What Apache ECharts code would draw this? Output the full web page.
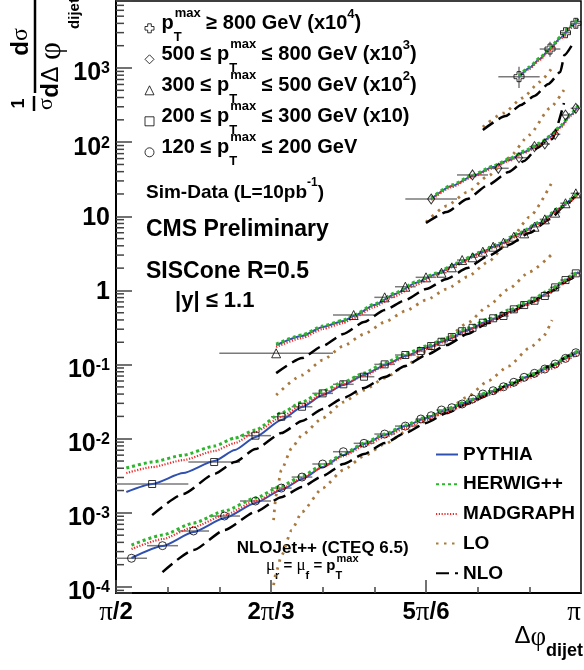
<!DOCTYPE html>
<html>
<head>
<meta charset="utf-8">
<script src="https://cdn.jsdelivr.net/npm/echarts@6/dist/echarts.min.js"></script>
<style>
  html, body { margin: 0; padding: 0; background: #fff; }
  #chart { width: 584px; height: 670px; }
</style>
</head>
<body>
<div id="chart"></div>
<script>
// ---------------------------------------------------------------------------
// Dijet azimuthal decorrelation, 1/sigma dsigma/dDeltaphi, in five pT^max bins.
// Angles are in degrees (90 = pi/2 ... 180 = pi); values are as plotted,
// i.e. already multiplied by the factor quoted in each legend entry.
// ---------------------------------------------------------------------------

const binLabels = [
  'pT max >= 800 GeV (x10^4)',
  '500 <= pT max <= 800 GeV (x10^3)',
  '300 <= pT max <= 500 GeV (x10^2)',
  '200 <= pT max <= 300 GeV (x10)',
  '120 <= pT max <= 200 GeV'
];
const modelNames = ['PYTHIA', 'HERWIG++', 'MADGRAPH', 'LO', 'NLO'];

// ---- pT^max >= 800 GeV (x10^4) -------------------------------------------
const phiX   = [168, 174, 177, 179];
const edgesX = [164, 172, 176, 178, 180];
const valX   = [764, 1803, 2993, 4009];
const errLoX = [537, 1420, 2642, 3460];
const errHiX = [1041, 2265, 3428, 4720];
const mcPhiX    = [168, 170, 172, 174, 176, 178, 179.5];
const pythiaX   = [756, 1000, 1323, 1804, 2539, 3573, 4580];
const herwigX   = [780, 1032, 1365, 1861, 2619, 3686, 4725];
const madgraphX = [733, 969, 1282, 1749, 2461, 3464, 4440];
const loPhiX  = [161, 165, 168.7, 172, 174.5];
const loX     = [160, 247, 394, 648, 1032];
const nloPhiX = [161, 165.4, 168.4, 171, 173.7, 176, 176.8, 178.6];
const nloX    = [146, 225, 317, 419, 609, 883, 1497, 2242];

// ---- 500 <= pT^max <= 800 GeV (x10^3) ------------------------------------
const phiD   = [151, 159, 164, 168, 171, 173, 175, 177, 179];
const edgesD = [146, 156, 162, 166, 170, 172, 174, 176, 178, 180];
const valD   = [17.1, 36.1, 44.4, 61.7, 86.9, 94.4, 127.6, 232, 286];
const mcPhiD    = [151, 155, 159, 163, 166, 169, 172, 174, 176, 178, 179.5];
const pythiaD   = [17.1, 25.6, 34.9, 46.1, 57.3, 73.5, 94.1, 117, 160, 232, 307];
const herwigD   = [17.6, 26.4, 36.0, 47.6, 59.1, 75.8, 97.1, 121, 165, 239, 317];
const madgraphD = [16.6, 24.8, 33.8, 44.7, 55.5, 71.2, 91.2, 113, 155, 225, 298];
const loPhiD  = [150, 154, 158, 162, 166, 170, 174, 176.7];
const loD     = [8.37, 13.8, 21.2, 34.9, 61.1, 125, 289, 505];
const nloPhiD = [150, 154, 158, 162, 166, 169, 171.6, 173.5, 174.4, 176.7];
const nloD    = [8.10, 11.4, 17.1, 26.4, 39.6, 55.7, 83.4, 107, 110, 337];

// ---- 300 <= pT^max <= 500 GeV (x10^2) ------------------------------------
const phiT   = [121, 136, 142, 146, 150, 153, 155, 157, 159, 161, 163, 165, 167, 169, 171, 173, 175, 177, 179];
const edgesT = [110, 132, 140, 144, 148, 152, 154, 156, 158, 160, 162, 164, 166, 168, 170, 172, 174, 176, 178, 180];
const valT   = [0.142, 0.466, 0.807, 1.122, 1.503, 1.734, 2.05, 2.57, 2.80, 3.33, 3.89, 4.41, 5.31, 5.89, 7.23, 9.10, 11.2, 15.0, 20.4];
const mcPhiT    = [121, 126, 130, 134, 136, 140, 144, 148, 152, 156, 160, 164, 168, 172, 176, 178, 179.5];
const pythiaT   = [0.183, 0.243, 0.321, 0.386, 0.451, 0.635, 0.893, 1.264, 1.665, 2.27, 3.10, 4.11, 5.76, 8.10, 12.9, 16.6, 20.6];
const herwigT   = [0.189, 0.251, 0.331, 0.398, 0.465, 0.655, 0.921, 1.304, 1.718, 2.34, 3.20, 4.24, 5.94, 8.36, 13.3, 17.1, 21.2];
const madgraphT = [0.172, 0.228, 0.302, 0.363, 0.424, 0.597, 0.839, 1.188, 1.614, 2.20, 3.005, 3.98, 5.58, 7.85, 12.5, 16.1, 20.0];
const loPhiT  = [121, 126, 130, 134, 138, 142, 146, 150, 154, 158, 162, 166, 170, 174.4];
const loT     = [0.0388, 0.0721, 0.115, 0.178, 0.258, 0.3745, 0.527, 0.741, 1.045, 1.52, 2.42, 4.49, 9.75, 29.0];
const nloPhiT = [121, 126, 130, 134, 138, 142, 146, 150, 154, 158, 162, 166, 170, 174, 177, 179.5];
const nloT    = [0.0767, 0.1226, 0.178, 0.258, 0.3745, 0.543, 0.741, 1.045, 1.43, 2.00, 2.91, 4.11, 5.94, 9.17, 14.2, 21.2];

// ---- 200 <= pT^max <= 300 GeV (x10) --------------------------------------
const phiS   = [97, 109, 117, 122, 126, 130, 134, 138, 142, 146, 149, 151, 153, 155, 157, 159, 161, 163, 165, 167, 169, 171, 173, 175, 177, 179];
const edgesS = [90, 104, 114, 120, 124, 128, 132, 136, 140, 144, 148, 150, 152, 154, 156, 158, 160, 162, 164, 166, 168, 170, 172, 174, 176, 178, 180];
const valS   = [0.00245, 0.00485, 0.0110, 0.0198, 0.0270, 0.0409, 0.0542, 0.0686, 0.1007, 0.1346, 0.1524, 0.178, 0.203, 0.2355, 0.282, 0.313, 0.367, 0.421, 0.452, 0.556, 0.635, 0.726, 0.841, 1.10, 1.38, 1.70];
const mcPhiS    = [92, 97, 103, 109, 113, 117, 122, 126, 130, 134, 138, 142, 146, 150, 154, 158, 162, 166, 170, 174, 176, 178, 179.5];
const pythiaS   = [0.00191, 0.00245, 0.00344, 0.00499, 0.00703, 0.01054, 0.0179, 0.0267, 0.0388, 0.0529, 0.0721, 0.0983, 0.1305, 0.167, 0.214, 0.292, 0.386, 0.511, 0.675, 0.950, 1.22, 1.52, 1.77];
const herwigS   = [0.00402, 0.00484, 0.00601, 0.00795, 0.01022, 0.0131, 0.0222, 0.0312, 0.0439, 0.0581, 0.0767, 0.1049, 0.139, 0.178, 0.228, 0.311, 0.411, 0.543, 0.718, 1.013, 1.26, 1.56, 1.83];
const madgraphS = [0.00344, 0.00414, 0.00515, 0.00681, 0.00873, 0.0123, 0.0196, 0.0284, 0.0400, 0.0546, 0.0699, 0.0953, 0.1265, 0.162, 0.2075, 0.283, 0.374, 0.495, 0.654, 0.921, 1.18, 1.47, 1.72];
const loPhiS  = [120.5, 121, 122, 124, 126, 130, 134, 138, 142, 146, 150, 154, 158, 162, 166, 170, 174.4];
const loS     = [0.000799, 0.00174, 0.00378, 0.00747, 0.0112, 0.0190, 0.0312, 0.0453, 0.0657, 0.0954, 0.148, 0.228, 0.363, 0.615, 1.045, 1.77, 3.10];
const nloPhiS = [97, 103, 109, 113, 117, 122, 126, 130, 134, 138, 142, 146, 150, 154, 158, 162, 166, 170, 174, 178, 179.5];
const nloS    = [0.000933, 0.00179, 0.00334, 0.00484, 0.00725, 0.0119, 0.0173, 0.0251, 0.0354, 0.0482, 0.0678, 0.0954, 0.1345, 0.183, 0.258, 0.363, 0.495, 0.675, 0.950, 1.43, 1.72];

// ---- 120 <= pT^max <= 200 GeV ---------------------------------------------
const phiC   = [93, 99, 105, 111, 117, 122, 126, 130, 134, 138, 142, 146, 149, 151, 153, 155, 157, 159, 161, 163, 165, 167, 169, 171, 173, 175, 177, 179];
const edgesC = [90, 96, 102, 108, 114, 120, 124, 128, 132, 136, 140, 144, 148, 150, 152, 154, 156, 158, 160, 162, 164, 166, 168, 170, 172, 174, 176, 178, 180];
const valC   = [0.000244, 0.000361, 0.000569, 0.000906, 0.001445, 0.00216, 0.00304, 0.00456, 0.00668, 0.00867, 0.01156, 0.0148, 0.01845, 0.0204, 0.0244, 0.0262, 0.0294, 0.0343, 0.0401, 0.0444, 0.0502, 0.0577, 0.0673, 0.0762, 0.0871, 0.1018, 0.1213, 0.1445];
const mcPhiC    = [93, 99, 105, 111, 117, 122, 126, 130, 134, 138, 142, 146, 150, 154, 158, 162, 166, 170, 174, 178, 179.5];
const pythiaC   = [0.000246, 0.000357, 0.000551, 0.000850, 0.00136, 0.00203, 0.00286, 0.00414, 0.00601, 0.00846, 0.0112, 0.0148, 0.0190, 0.0244, 0.0312, 0.0412, 0.0529, 0.0699, 0.0924, 0.1305, 0.152];
const herwigC   = [0.000368, 0.000502, 0.000728, 0.00106, 0.001585, 0.00230, 0.00314, 0.00441, 0.00621, 0.00873, 0.01155, 0.0153, 0.0196, 0.0252, 0.0322, 0.0425, 0.0546, 0.0721, 0.0953, 0.1346, 0.157];
const madgraphC = [0.000325, 0.000443, 0.000643, 0.000933, 0.00144, 0.00210, 0.00295, 0.00414, 0.00583, 0.00795, 0.01053, 0.0139, 0.0179, 0.0229, 0.0293, 0.0387, 0.0497, 0.0657, 0.0868, 0.1227, 0.143];
const loPhiC  = [120.5, 121, 122, 124, 126, 130, 134, 138, 142, 146, 150, 154, 158, 162, 166, 170, 172.5, 174.4];
const loC     = [0.000106, 0.000159, 0.000262, 0.000586, 0.00103, 0.00216, 0.00378, 0.00583, 0.00846, 0.0123, 0.0173, 0.0244, 0.0365, 0.0599, 0.0954, 0.167, 0.228, 0.398];
const nloPhiC = [99, 105, 111, 117, 122, 126, 130, 134, 138, 142, 146, 150, 154, 158, 162, 166, 170, 174, 178, 179.5];
const nloC    = [0.000159, 0.000315, 0.000586, 0.00103, 0.00163, 0.00223, 0.00314, 0.00455, 0.00621, 0.00873, 0.0119, 0.0163, 0.0222, 0.0294, 0.0388, 0.0529, 0.0699, 0.0954, 0.1345, 0.152];

// axis furniture
const xTickValues = [90, 120, 150, 180];
const xTickLabels = ['{s|\u03c0}{m|/2}', '{m|2}{s|\u03c0}{m|/3}', '{m|5}{s|\u03c0}{m|/6}', '{s|\u03c0}'];
const yMin = 8.3e-5, yMax = 8013;
const minorDecades = [-5, -4, -3, -2, -1, 0, 1, 2, 3];
const minorDigits = [2, 3, 4, 5, 6, 7, 8, 9];

// ---------------------------------------------------------------------------
const SANS = '"Liberation Sans", Arial, Helvetica, sans-serif';
const SERIF = '"Liberation Serif", "Times New Roman", serif';

const crossPath = 'path://M3,0L7,0L7,3L10,3L10,7L7,7L7,10L3,10L3,7L0,7L0,3L3,3Z';

const bins = [
  { name: binLabels[0], symbol: crossPath, size: 10, phi: phiX, val: valX, edges: edgesX, errLo: errLoX, errHi: errHiX,
    mcPhi: mcPhiX, models: { 'PYTHIA': pythiaX, 'HERWIG++': herwigX, 'MADGRAPH': madgraphX },
    loPhi: loPhiX, lo: loX, nloPhi: nloPhiX, nlo: nloX },
  { name: binLabels[1], symbol: 'diamond', size: [7, 10], phi: phiD, val: valD, edges: edgesD,
    mcPhi: mcPhiD, models: { 'PYTHIA': pythiaD, 'HERWIG++': herwigD, 'MADGRAPH': madgraphD },
    loPhi: loPhiD, lo: loD, nloPhi: nloPhiD, nlo: nloD },
  { name: binLabels[2], symbol: 'triangle', size: 9, phi: phiT, val: valT, edges: edgesT,
    mcPhi: mcPhiT, models: { 'PYTHIA': pythiaT, 'HERWIG++': herwigT, 'MADGRAPH': madgraphT },
    loPhi: loPhiT, lo: loT, nloPhi: nloPhiT, nlo: nloT },
  { name: binLabels[3], symbol: 'rect', size: 7, phi: phiS, val: valS, edges: edgesS,
    mcPhi: mcPhiS, models: { 'PYTHIA': pythiaS, 'HERWIG++': herwigS, 'MADGRAPH': madgraphS },
    loPhi: loPhiS, lo: loS, nloPhi: nloPhiS, nlo: nloS },
  { name: binLabels[4], symbol: 'circle', size: 8, phi: phiC, val: valC, edges: edgesC,
    mcPhi: mcPhiC, models: { 'PYTHIA': pythiaC, 'HERWIG++': herwigC, 'MADGRAPH': madgraphC },
    loPhi: loPhiC, lo: loC, nloPhi: nloPhiC, nlo: nloC }
];

const modelStyles = {
  'PYTHIA':   { color: '#3050b0', width: 2, type: 'solid', z: 3 },
  'HERWIG++': { color: '#2db52d', width: 3, type: [3, 3], z: 3.2 },
  'MADGRAPH': { color: '#f02a2a', width: 2.2, type: [1.2, 1.6], z: 3.1 },
  'LO':       { color: '#a97a3f', width: 2.8, type: [2.5, 5.5], z: 3 },
  'NLO':      { color: '#000000', width: 2.5, type: [13, 6], z: 3 }
};

// legend texts with p_T^max (sub and superscript stacked)
const legendRich = {};
legendRich[binLabels[0]] = '{w| }{n|p}{sb|T}{sp|max}{n| \u2265 800 GeV (x10}{ex|4}{n|)}';
legendRich[binLabels[1]] = '{w| }{n|500 \u2264 p}{sb|T}{sp|max}{n| \u2264 800 GeV (x10}{ex|3}{n|)}';
legendRich[binLabels[2]] = '{w| }{n|300 \u2264 p}{sb|T}{sp|max}{n| \u2264 500 GeV (x10}{ex|2}{n|)}';
legendRich[binLabels[3]] = '{w| }{n|200 \u2264 p}{sb|T}{sp|max}{n| \u2264 300 GeV (x10)}';
legendRich[binLabels[4]] = '{w| }{n|120 \u2264 p}{sb|T}{sp|max}{n| \u2264 200 GeV}';

function zip(xs, ys) {
  return xs.map(function (x, i) { return [x, ys[i]]; });
}

function renderErrorBar(params, api) {
  const y = api.value(1);
  const a = api.coord([api.value(2), y]);
  const b = api.coord([api.value(3), y]);
  const children = [{
    type: 'line',
    shape: { x1: a[0], y1: a[1], x2: b[0], y2: b[1] },
    style: { stroke: '#7a7a7a', lineWidth: 1.5 }
  }];
  const lo = api.value(4), hi = api.value(5);
  if (lo > 0 && hi > 0) {
    const p = api.coord([api.value(0), lo]);
    const q = api.coord([api.value(0), hi]);
    children.push({
      type: 'line',
      shape: { x1: p[0], y1: p[1], x2: q[0], y2: q[1] },
      style: { stroke: '#7a7a7a', lineWidth: 1.5 }
    });
  }
  return { type: 'group', children: children };
}

function lineSeries(model, xs, ys) {
  const st = modelStyles[model];
  return {
    type: 'line', name: model, data: zip(xs, ys),
    symbol: 'none', smooth: 0.2, smoothMonotone: 'x', silent: true, z: st.z,
    lineStyle: { color: st.color, width: st.width, type: st.type },
    itemStyle: { color: st.color }
  };
}

const series = [];
bins.forEach(function (b) {
  series.push({
    type: 'custom', name: b.name + ' bins', silent: true, z: 2,
    renderItem: renderErrorBar,
    encode: { x: 0, y: 1 },
    data: b.phi.map(function (p, i) {
      return [p, b.val[i], b.edges[i], b.edges[i + 1],
              b.errLo ? b.errLo[i] : 0, b.errHi ? b.errHi[i] : 0];
    })
  });
  series.push(lineSeries('PYTHIA', b.mcPhi, b.models['PYTHIA']));
  series.push(lineSeries('HERWIG++', b.mcPhi, b.models['HERWIG++']));
  series.push(lineSeries('MADGRAPH', b.mcPhi, b.models['MADGRAPH']));
  series.push(lineSeries('LO', b.loPhi, b.lo));
  series.push(lineSeries('NLO', b.nloPhi, b.nlo));
  series.push({
    type: 'scatter', name: b.name, data: zip(b.phi, b.val),
    symbol: b.symbol, symbolSize: b.size, z: 4, silent: true,
    itemStyle: { color: 'rgba(0,0,0,0)', borderColor: '#000', borderWidth: 1 }
  });
});

// minor ticks of the logarithmic axis (2..9 within each decade)
const yMinorTicks = [];
minorDecades.forEach(function (d) {
  minorDigits.forEach(function (k) {
    const v = k * Math.pow(10, d);
    if (v > yMin && v < yMax) yMinorTicks.push([90, v]);
  });
});
series.push({
  type: 'custom', name: 'minor ticks', silent: true, z: 5,
  encode: { x: 0, y: 1 },
  data: yMinorTicks,
  renderItem: function (params, api) {
    const p = api.coord([api.value(0), api.value(1)]);
    return { type: 'line', shape: { x1: p[0], y1: p[1], x2: p[0] + 8, y2: p[1] },
             style: { stroke: '#444', lineWidth: 1.5 } };
  }
});

const chart = echarts.init(document.getElementById('chart'), null, { renderer: 'canvas' });

const option = {
  animation: false,
  backgroundColor: '#fff',
  grid: { left: 116, right: 2, top: 1, bottom: 77, show: true, borderColor: '#000', borderWidth: 1.5 },
  xAxis: {
    type: 'value', min: 90, max: 180, interval: 30,
    axisLine: { onZero: false, lineStyle: { color: '#000', width: 2 } },
    axisTick: { inside: true, length: 13, lineStyle: { color: '#444', width: 1.5 } },
    minorTick: { show: true, splitNumber: 3, length: 6, lineStyle: { color: '#444', width: 1.5 } },
    splitLine: { show: false },
    axisLabel: {
      margin: 6, color: '#000', alignMaxLabel: 'right',
      formatter: function (v) {
        const i = xTickValues.indexOf(Math.round(v));
        return i >= 0 ? xTickLabels[i] : '';
      },
      rich: {
        m: { fontSize: 24, fontWeight: 'bold', fontFamily: SANS, color: '#000' },
        s: { fontSize: 27, fontFamily: SERIF, color: '#000' }
      }
    }
  },
  yAxis: {
    type: 'log', logBase: 10, min: yMin, max: yMax,
    axisLine: { onZero: false, lineStyle: { color: '#000', width: 2 } },
    axisTick: { inside: true, length: 16, lineStyle: { color: '#444', width: 1.5 } },
    splitLine: { show: false },
    axisLabel: {
      margin: 6, color: '#000',
      formatter: function (v) {
        const e = Math.round(Math.log10(v));
        if (Math.abs(v / Math.pow(10, e) - 1) > 1e-6) return '';
        if (e === 0) return '{p|1}';
        if (e === 1) return '{p|10}';
        return '{m|10}{e|' + e + '}';
      },
      rich: {
        p: { fontSize: 25, fontWeight: 'bold', fontFamily: SANS, color: '#000', verticalAlign: 'top', lineHeight: 21 },
        m: { fontSize: 25, fontWeight: 'bold', fontFamily: SANS, color: '#000', verticalAlign: 'top', lineHeight: 14 },
        e: { fontSize: 16, fontWeight: 'bold', fontFamily: SANS, color: '#000', verticalAlign: 'top', lineHeight: 14 }
      }
    }
  },
  legend: [
    {
      data: binLabels, orient: 'vertical', left: 144.5, top: 6.8, padding: 0,
      itemWidth: 9, itemHeight: 9, itemGap: -12, selectedMode: false,
      itemStyle: { borderWidth: 1 },
      formatter: function (name) { return legendRich[name]; },
      textStyle: {
        color: '#000', lineHeight: 43,
        rich: {
          w:  { fontSize: 10, width: 2.5 },
          n:  { fontSize: 20, fontWeight: 'bold', fontFamily: SANS, color: '#000', verticalAlign: 'top', padding: [6.2, 0, 0, 0], lineHeight: 43 },
          sb: { fontSize: 13, fontWeight: 'bold', fontFamily: SANS, color: '#000', verticalAlign: 'bottom', padding: [0, 0, 6, 0], width: 1 },
          sp: { fontSize: 13, fontWeight: 'bold', fontFamily: SANS, color: '#000', verticalAlign: 'top' },
          ex: { fontSize: 13, fontWeight: 'bold', fontFamily: SANS, color: '#000', verticalAlign: 'top', padding: [1.5, 0, 0, 0] }
        }
      }
    },
    {
      data: modelNames, orient: 'vertical', left: 435, top: 443.5, padding: 0,
      itemWidth: 22, itemHeight: 12, itemGap: 7.7, selectedMode: false,
      itemStyle: { opacity: 0 },
      textStyle: { fontSize: 19, fontWeight: 'bold', fontFamily: SANS, color: '#000', lineHeight: 22 }
    }
  ],
  graphic: [
    {
      type: 'text', x: 146, y: 176.5, silent: true,
      style: {
        text: '{a|Sim-Data (L=10pb}{s|-1}{a|)}', align: 'left', verticalAlign: 'top',
        rich: {
          a: { fontSize: 19, fontWeight: 'bold', fontFamily: SANS, fill: '#000', verticalAlign: 'top', padding: [6.5, 0, 0, 0], lineHeight: 26 },
          s: { fontSize: 12, fontWeight: 'bold', fontFamily: SANS, fill: '#000', verticalAlign: 'top' }
        }
      }
    },
    { type: 'text', x: 146, y: 230, silent: true,
      style: { text: 'CMS Preliminary', fontSize: 23, fontWeight: 'bold', fontFamily: SANS, fill: '#000', verticalAlign: 'middle' } },
    { type: 'text', x: 146, y: 271.5, silent: true,
      style: { text: 'SISCone R=0.5', fontSize: 23, fontWeight: 'bold', fontFamily: SANS, fill: '#000', verticalAlign: 'middle' } },
    { type: 'text', x: 175, y: 301, silent: true,
      style: { text: '|y| \u2264 1.1', fontSize: 22, fontWeight: 'bold', fontFamily: SANS, fill: '#000', verticalAlign: 'middle' } },
    { type: 'text', x: 236.7, y: 548, silent: true,
      style: { text: 'NLOJet++ (CTEQ 6.5)', fontSize: 17, fontWeight: 'bold', fontFamily: SANS, fill: '#000', verticalAlign: 'middle' } },
    {
      type: 'text', x: 266, y: 552, silent: true,
      style: {
        text: '{g|\u03bc}{b|r}{m| = }{g|\u03bc}{b|f}{m| = p}{t|T}{u|max}', align: 'left', verticalAlign: 'top',
        rich: {
          m: { fontSize: 15, fontWeight: 'bold', fontFamily: SANS, fill: '#000', verticalAlign: 'top', padding: [6.5, 0, 0, 0], lineHeight: 30 },
          g: { fontSize: 17, fontFamily: SERIF, fill: '#000', verticalAlign: 'top', padding: [5.5, 0, 0, 0] },
          b: { fontSize: 11, fontWeight: 'bold', fontFamily: SANS, fill: '#000', verticalAlign: 'bottom', padding: [0, 0, 0.5, 0] },
          t: { fontSize: 11, fontWeight: 'bold', fontFamily: SANS, fill: '#000', verticalAlign: 'bottom', padding: [0, 0, 0.5, 0], width: 1 },
          u: { fontSize: 11, fontWeight: 'bold', fontFamily: SANS, fill: '#000', verticalAlign: 'top', padding: [1.5, 0, 0, 0] }
        }
      }
    },
    {
      type: 'text', x: 583, y: 624.5, silent: true,
      style: {
        text: '{d|\u0394}{f|\u03c6}{s|dijet}', align: 'right', verticalAlign: 'top',
        rich: {
          d: { fontSize: 24, fontFamily: SANS, fill: '#000', verticalAlign: 'top' },
          f: { fontSize: 27, fontFamily: SERIF, fill: '#000', verticalAlign: 'top' },
          s: { fontSize: 18, fontWeight: 'bold', fontFamily: SANS, fill: '#000', verticalAlign: 'bottom', lineHeight: 36 }
        }
      }
    },
    {
      // y-axis title: 1/sigma dsigma/dDeltaphi_dijet, written bottom-to-top
      type: 'group', x: 0, y: 112, rotation: Math.PI / 2, silent: true,
      children: [
        { type: 'text', x: 8.5, y: 19, style: { text: '1', fontSize: 18, fontWeight: 'bold', fontFamily: SANS, fill: '#000', align: 'center', verticalAlign: 'middle' } },
        { type: 'line', shape: { x1: 1, y1: 34, x2: 16, y2: 34 }, style: { stroke: '#000', lineWidth: 2.5 } },
        { type: 'text', x: 8, y: 46.5, style: { text: '\u03c3', fontSize: 22, fontFamily: SERIF, fill: '#000', align: 'center', verticalAlign: 'middle' } },
        { type: 'text', x: 63.5, y: 21, style: { text: 'd', fontSize: 24, fontWeight: 'bold', fontFamily: SANS, fill: '#000', align: 'center', verticalAlign: 'middle' } },
        { type: 'text', x: 77.5, y: 21, style: { text: '\u03c3', fontSize: 24, fontFamily: SERIF, fill: '#000', align: 'center', verticalAlign: 'middle' } },
        { type: 'line', shape: { x1: 19, y1: 35, x2: 112, y2: 35 }, style: { stroke: '#000', lineWidth: 2.5 } },
        { type: 'text', x: 21.5, y: 51.5, style: { text: 'd', fontSize: 24, fontWeight: 'bold', fontFamily: SANS, fill: '#000', align: 'center', verticalAlign: 'middle' } },
        { type: 'text', x: 37.5, y: 51.5, style: { text: '\u0394', fontSize: 24, fontFamily: SANS, fill: '#000', align: 'center', verticalAlign: 'middle' } },
        { type: 'text', x: 61, y: 51.5, style: { text: '\u03c6', fontSize: 31, fontFamily: SERIF, fill: '#000', align: 'center', verticalAlign: 'middle' } },
        { type: 'text', x: 98.5, y: 74.5, style: { text: 'dijet', fontSize: 15, fontWeight: 'bold', fontFamily: SANS, fill: '#000', align: 'center', verticalAlign: 'middle' } }
      ]
    }
  ],
  series: series
};

chart.setOption(option);
</script>
</body>
</html>
